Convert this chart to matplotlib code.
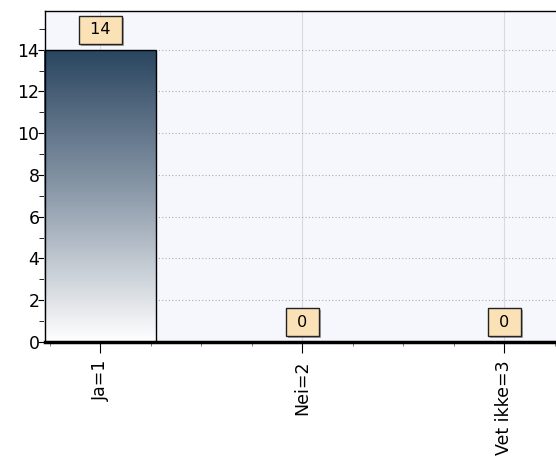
import numpy as np
import matplotlib
matplotlib.use("Agg")
from matplotlib import pyplot as plt
from matplotlib.colors import LinearSegmentedColormap
from matplotlib.ticker import MultipleLocator
import matplotlib.patheffects as pe

categories = ['Ja=1', 'Nei=2', 'Vet ikke=3']
values = [14, 0, 0]
positions = [1, 2, 3]

fig = plt.figure(figsize=(5.56, 4.74), dpi=100)
ax = fig.add_axes([45/556, 132/474, 560/556, 331/474])
ax.set_facecolor('#F5F7FD')
ax.set_xlim(0.725, 3.5)
ax.set_ylim(0, 15.85)

# grid
ax.set_axisbelow(True)
ax.yaxis.grid(True, color='#A8AEBB', linestyle=(0, (1, 2)), linewidth=0.8)
ax.xaxis.grid(True, color='#D6DAE2', linestyle='-', linewidth=0.8)

# bars with gradient fill
grad = LinearSegmentedColormap.from_list('g', ['#FFFFFF', '#8E9CAB', '#2A4560'])
bars = ax.bar(positions, values, width=0.555, facecolor='none', edgecolor='black',
              linewidth=1.0, zorder=3)
for b in bars:
    h = b.get_height()
    if h <= 0:
        continue
    x0 = b.get_x()
    im = ax.imshow(np.linspace(0, 1, 256).reshape(-1, 1), cmap=grad, origin='lower',
                   aspect='auto', extent=[x0, x0 + b.get_width(), 0, h], zorder=2)
    im.set_clip_path(b)

# value labels (spaces widen the box like the original)
for x, v in zip(positions, values):
    t = ax.text(x, v + 0.95, ' %d ' % v, ha='center', va='center', fontsize=11.5, zorder=5,
                bbox=dict(boxstyle='square,pad=0.4', fc='#FBE2B6', ec='#222222', lw=1.0))
    t.get_bbox_patch().set_path_effects([pe.SimplePatchShadow(offset=(1.5, -1.5), alpha=0.45),
                                         pe.Normal()])

# axes styling
for s in ['left', 'top']:
    ax.spines[s].set_color('black')
    ax.spines[s].set_linewidth(1.0)
ax.spines['bottom'].set_linewidth(2.5)
ax.spines['right'].set_visible(False)

ax.set_xticks(positions)
ax.set_xticklabels(categories, rotation=90, fontsize=12.5)
ax.xaxis.set_minor_locator(MultipleLocator(0.25))
ax.set_yticks(np.arange(0, 15, 2))
ax.yaxis.set_minor_locator(MultipleLocator(1))
ax.tick_params(axis='y', which='major', labelsize=12.5, length=5, pad=-1, color='black')
ax.tick_params(axis='y', which='minor', length=4)
ax.tick_params(axis='x', which='major', length=8, pad=5)
ax.tick_params(axis='x', which='minor', length=3, color='#666666')

fig.savefig('out.png', dpi=100)
